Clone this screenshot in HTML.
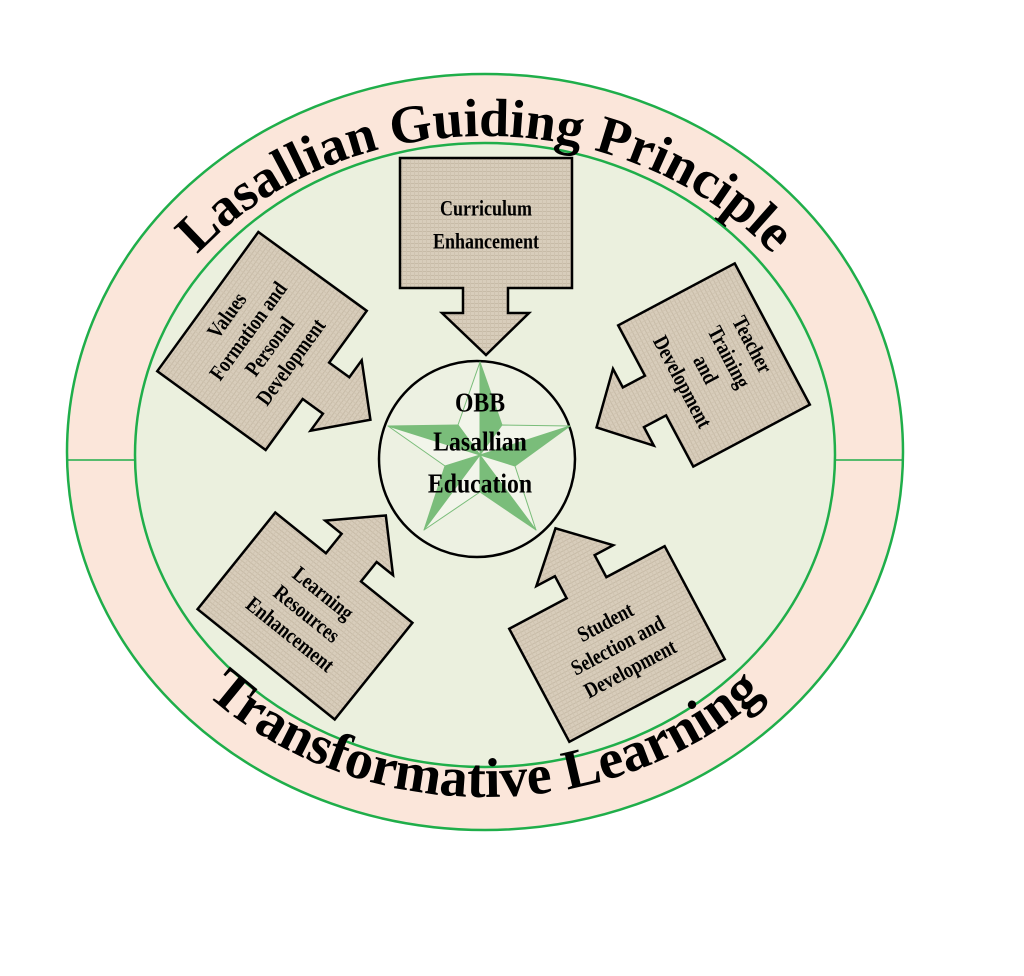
<!DOCTYPE html>
<html><head><meta charset="utf-8"><style>
html,body{margin:0;padding:0;background:#fff;}
svg{display:block;}
text{font-family:"Liberation Serif",serif;font-weight:bold;fill:#000;}
</style></head><body>
<svg width="1024" height="976" viewBox="0 0 1024 976" xmlns="http://www.w3.org/2000/svg">
<defs>
<pattern id="lin" width="4" height="4" patternUnits="userSpaceOnUse">
<rect width="4" height="4" fill="#d8cdbb"/>
<rect width="4" height="1" fill="#c7bba7"/>
<rect width="1" height="4" fill="#cfc3b0"/>
</pattern>
<path id="topArc" d="M 113,460 A 372 324 0 0 1 857,460"/>
<path id="botArc" d="M 95,455 A 390 342 0 0 0 875,455"/>
</defs>
<ellipse cx="485" cy="452" rx="418" ry="378" fill="#fbe6da" stroke="#1fae4a" stroke-width="2.5"/>
<line x1="67" y1="460" x2="903" y2="460" stroke="#1fae4a" stroke-width="1.5"/>
<ellipse cx="485" cy="455" rx="350" ry="312" fill="#ebf0de" stroke="#1fae4a" stroke-width="2.5"/>

<text font-size="54"><textPath href="#topArc" startOffset="50%" text-anchor="middle">Lasallian Guiding Principle</textPath></text>
<text font-size="56"><textPath href="#botArc" startOffset="50%" text-anchor="middle">Transformative Learning</textPath></text>

<g transform="translate(486,223)">
<path d="M-86,-65 H86 V65 H22 V90 H43 L0,132 L-44,90 H-23 V65 H-86 Z" fill="url(#lin)" stroke="#000" stroke-width="2.5"/>
<g transform="scale(0.9,1.1)">
<text font-size="20" text-anchor="middle" y="-7">Curriculum</text>
<text font-size="20" text-anchor="middle" y="23">Enhancement</text>
</g>
</g>
<g transform="translate(262,341) rotate(-54)">
<path d="M-86,-67 H86 V67 H22 V92 H43 L0,134 L-44,92 H-23 V67 H-86 Z" fill="url(#lin)" stroke="#000" stroke-width="2.5"/>
<g transform="scale(0.9,1.1)">
<text font-size="20" text-anchor="middle" y="-33">Values</text>
<text font-size="20" text-anchor="middle" y="-9">Formation and</text>
<text font-size="20" text-anchor="middle" y="15">Personal</text>
<text font-size="20" text-anchor="middle" y="39">Development</text>
</g>
</g>
<g transform="translate(714,365) rotate(62)">
<path d="M-80,-66 H80 V66 H22 V91 H43 L0,133 L-44,91 H-23 V66 H-80 Z" fill="url(#lin)" stroke="#000" stroke-width="2.5"/>
<g transform="scale(0.9,1.1)">
<text font-size="20" text-anchor="middle" y="-33">Teacher</text>
<text font-size="20" text-anchor="middle" y="-9">Training</text>
<text font-size="20" text-anchor="middle" y="15">and</text>
<text font-size="20" text-anchor="middle" y="39">Development</text>
</g>
</g>
<g transform="translate(617,644) rotate(-28)">
<path d="M-88,64 H88 V-64 H22 V-89 H43 L0,-131 L-44,-89 H-23 V-64 H-88 Z" fill="url(#lin)" stroke="#000" stroke-width="2.5"/>
<g transform="scale(0.9,1.1)">
<text font-size="20" text-anchor="middle" y="-16">Student</text>
<text font-size="20" text-anchor="middle" y="8">Selection and</text>
<text font-size="20" text-anchor="middle" y="32">Development</text>
</g>
</g>
<g transform="translate(305,616) rotate(38.8)">
<path d="M-88,62 H88 V-62 H22 V-87 H43 L0,-129 L-44,-87 H-23 V-62 H-88 Z" fill="url(#lin)" stroke="#000" stroke-width="2.5"/>
<g transform="scale(0.9,1.1)">
<text font-size="20" text-anchor="middle" y="-20">Learning</text>
<text font-size="20" text-anchor="middle" y="4">Resources</text>
<text font-size="20" text-anchor="middle" y="28">Enhancement</text>
</g>
</g>

<circle cx="477" cy="459" r="98" fill="#edf1e2" stroke="#000" stroke-width="2.5"/>
<g stroke="#7abd7a" stroke-width="1" stroke-linejoin="round">
<polygon points="480,455 480,362 502,425" fill="#7abd7a"/>
<polygon points="480,455 480,362 458,425" fill="#f2f5ea"/>
<polygon points="480,455 570,426 515,466" fill="#7abd7a"/>
<polygon points="480,455 570,426 502,425" fill="#f2f5ea"/>
<polygon points="480,455 536,530 480,492" fill="#7abd7a"/>
<polygon points="480,455 536,530 515,466" fill="#f2f5ea"/>
<polygon points="480,455 424,530 445,466" fill="#7abd7a"/>
<polygon points="480,455 424,530 480,492" fill="#f2f5ea"/>
<polygon points="480,455 388,426 458,425" fill="#7abd7a"/>
<polygon points="480,455 388,426 445,466" fill="#f2f5ea"/>
</g>
<g transform="translate(480,0) scale(0.95,1.08)">
<text font-size="25" text-anchor="middle" x="0" y="381">OBB</text>
<text font-size="25" text-anchor="middle" x="0" y="417">Lasallian</text>
<text font-size="25" text-anchor="middle" x="0" y="456">Education</text>
</g>
</svg>
</body></html>
